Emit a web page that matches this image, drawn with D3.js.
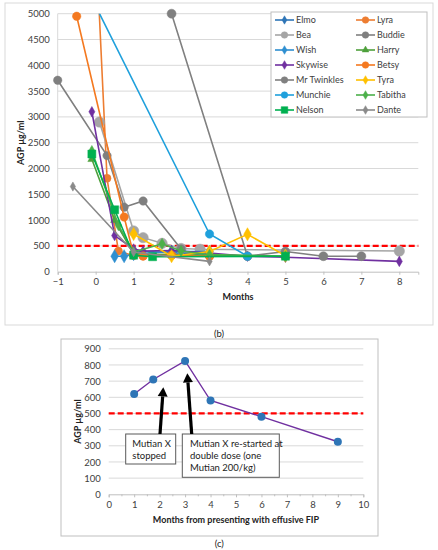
<!DOCTYPE html>
<html><head><meta charset="utf-8">
<script src="https://cdn.jsdelivr.net/npm/d3@7"></script>
<style>
html,body{margin:0;padding:0;background:#fff;}
svg{display:block;font-family:Lato,"Liberation Sans",sans-serif;}
</style></head>
<body>
<svg id="c" width="438" height="550"></svg>
<script>
// ---------- DATA: chart (b) ----------
const seriesNames = ["Elmo","Lyra","Bea","Buddie","Wish","Harry","Skywise","Betsy","Mr Twinkles","Tyra","Munchie","Tabitha","Nelson","Dante"];
const elmo      = [[0.5,970],[1,400],[2,370],[3,330],[4,300]];
const lyra      = [[0,6500],[0.3,1810],[0.6,400],[1,310],[1.25,300],[2,320],[3,300]];
const bea       = [[0.1,2900],[1,790],[1.25,660],[1.75,550],[2.25,450],[2.75,435],[8,400]];
const buddie    = [[-1,3710],[0.3,2250],[0.75,1250],[1.25,1370],[2.25,440]];
const wish      = [[0.5,300],[0.75,300],[1,340],[2,390],[3,390]];
const harry     = [[-0.1,2180],[0.5,1000],[1,340],[2,330],[3,320],[5,300]];
const skywise   = [[-0.1,3100],[0.5,700],[1,440],[1.25,400],[2,410],[3,360],[4,300],[5,280],[8,200]];
const betsy     = [[-0.5,4950],[0.75,1060],[1,330],[1.25,305],[2,320],[3,300]];
const mrTwinkles= [[2,5000],[4,300],[5,390],[6,300],[7,300]];
const tyra      = [[1,730],[2,300],[3,390],[4,725],[5,310]];
const munchie   = [[0,5150],[3,730],[4,300]];
const tabitha   = [[-0.1,2340],[0.6,900],[1,380],[1.75,540],[2.25,400],[3,330],[5,300]];
const nelson    = [[-0.1,2280],[0.5,1200],[1,320],[1.5,290],[5,300]];
const dante     = [[-0.6,1650],[1,380],[3,200]];
const bValues = [elmo,lyra,bea,buddie,wish,harry,skywise,betsy,mrTwinkles,tyra,munchie,tabitha,nelson,dante];
const bYTicks = [0,500,1000,1500,2000,2500,3000,3500,4000,4500,5000];
const bXTicks = [-1,0,1,2,3,4,5,6,7,8];
const bThreshold = 500;

// ---------- DATA: chart (c) ----------
const cMonths = [1,1.75,3,4,6,9];
const cAGP    = [620,710,825,580,480,325];
const cYTicks = [0,100,200,300,400,500,600,700,800,900];
const cXTicks = [0,1,2,3,4,5,6,7,8,9,10];
const cThreshold = 500;
const cNotes = [
  {lines:["Mutian X","stopped"], at:[1.75,710]},
  {lines:["Mutian X re-started at","double dose (one","Mutian 200/kg)"], at:[3,825]}
];

// ---------- STYLES ----------
const sStyle = [
  {c:"#2E75B6",m:"diamond",r:3.2},
  {c:"#ED7D31",m:"circle",r:4},
  {c:"#A5A5A5",m:"circle",r:5.2},
  {c:"#7F7F7F",m:"circle",r:4.2},
  {c:"#2E8FD0",m:"diamond",r:5},
  {c:"#4EA03C",m:"triangle",r:4},
  {c:"#7030A0",m:"diamond",r:4},
  {c:"#F47920",m:"circle",r:4.2},
  {c:"#808080",m:"circle",r:4.5},
  {c:"#FFC000",m:"diamond",r:5},
  {c:"#1FA0DC",m:"circle",r:4.2},
  {c:"#4CB04A",m:"diamond",r:4.2},
  {c:"#00B050",m:"square",r:4},
  {c:"#8A8A8A",m:"diamond",r:3.5}
];

const svg = d3.select("#c");
const sym = {circle:d3.symbolCircle,diamond:d3.symbolDiamond,triangle:d3.symbolTriangle,square:d3.symbolSquare};
function marker(g,type,r,color){
  const area = type==="circle"?Math.PI*r*r: type==="square"?(2*r)*(2*r): type==="diamond"? 2*r*r*1.0 : r*r*1.8;
  return g.append("path").attr("d",d3.symbol().type(sym[type]).size(area)()).attr("fill",color).attr("stroke",color).attr("stroke-width",0.5);
}

// ===== Chart (b) =====
svg.append("rect").attr("x",5).attr("y",3).attr("width",428).attr("height",322).attr("fill","#fff").attr("stroke","#D9D9D9");
const bx = d3.scaleLinear().domain([-1,8.5]).range([57.7,418.3]);
const by = d3.scaleLinear().domain([0,5000]).range([271.7,13.7]);
const bG = svg.append("g");
bG.selectAll("line.grid").data(bYTicks.slice(1)).join("line")
  .attr("x1",bx(-1)).attr("x2",bx(8.5)).attr("y1",d=>by(d)).attr("y2",d=>by(d))
  .attr("stroke","#D9D9D9").attr("stroke-width",1);
bG.append("line").attr("x1",bx(-1)).attr("x2",bx(-1)).attr("y1",by(0)).attr("y2",by(5000)).attr("stroke","#D9D9D9");
const bxAxis = bG.append("g").attr("transform",`translate(0,${by(0)})`)
  .call(d3.axisBottom(bx).tickValues(bXTicks).tickSize(3).tickPadding(4).tickFormat(d3.format("d")));
bxAxis.select(".domain").attr("stroke","#BFBFBF");
bxAxis.selectAll(".tick line").attr("stroke","#BFBFBF");
bxAxis.selectAll("text").attr("font-size",9.5).attr("fill","#404040").attr("font-family","Lato");
const byAxis = bG.append("g").attr("transform",`translate(${bx(-1)},0)`)
  .call(d3.axisLeft(by).tickValues(bYTicks).tickSize(0).tickPadding(8).tickFormat(d3.format("d")));
byAxis.select(".domain").remove();
byAxis.selectAll("text").attr("font-size",9.5).attr("fill","#404040").attr("font-family","Lato");
svg.append("text").attr("transform",`translate(24,${(by(0)+by(5000))/2}) rotate(-90)`)
  .attr("text-anchor","middle").attr("font-size",9).attr("font-weight","bold").attr("fill","#222").text("AGP µg/ml");
svg.append("text").attr("x",(bx(-1)+bx(8.5))/2).attr("y",300).attr("text-anchor","middle")
  .attr("font-size",9).attr("font-weight","bold").attr("fill","#222").text("Months");
svg.append("text").attr("x",219).attr("y",337).attr("text-anchor","middle").attr("font-size",9.5).attr("fill","#222").text("(b)");

svg.append("clipPath").attr("id","bclip").append("rect")
  .attr("x",bx(-1)).attr("y",by(5000)).attr("width",bx(8.5)-bx(-1)).attr("height",by(0)-by(5000));
// threshold
bG.append("line").attr("x1",bx(-1)).attr("x2",bx(8.5)).attr("y1",by(bThreshold)).attr("y2",by(bThreshold))
  .attr("stroke","#FF0000").attr("stroke-width",2.2).attr("stroke-dasharray","6,3");
const line = d3.line().x(d=>bx(d[0])).y(d=>by(d[1]));
const sG = bG.append("g");
bValues.forEach((vals,i)=>{
  const st = sStyle[i];
  const g = sG.append("g");
  g.append("path").attr("d",line(vals)).attr("fill","none").attr("stroke",st.c).attr("stroke-width",1.6).attr("clip-path","url(#bclip)");
  vals.filter(d=>d[1]<=5000).forEach(d=>{
    marker(g,st.m,st.r,st.c).attr("transform",`translate(${bx(d[0])},${by(d[1])})`);
  });
});

// legend
const lg = svg.append("g");
lg.append("rect").attr("x",271).attr("y",12).attr("width",156).attr("height",105).attr("fill","#fff").attr("stroke","#BFBFBF");
seriesNames.forEach((n,i)=>{
  const col = i%2, row = Math.floor(i/2);
  const x0 = col===0?275:356, y0 = 20+row*15;
  const st = sStyle[i];
  lg.append("line").attr("x1",x0).attr("x2",x0+19).attr("y1",y0).attr("y2",y0).attr("stroke",st.c).attr("stroke-width",1.6);
  marker(lg,st.m,Math.min(st.r,3.3),st.c).attr("transform",`translate(${x0+9.5},${y0})`);
  lg.append("text").attr("x",x0+21).attr("y",y0+3.3).attr("font-size",9).attr("fill","#404040").text(n);
});

// ===== Chart (c) =====
svg.append("rect").attr("x",61).attr("y",339).attr("width",317).attr("height",197).attr("fill","#fff").attr("stroke","#BFBFBF");
const cx = d3.scaleLinear().domain([0,10]).range([108.7,363.3]);
const cy = d3.scaleLinear().domain([0,900]).range([494.3,348.8]);
const cG = svg.append("g");
cG.selectAll("line.grid").data(cYTicks.slice(1)).join("line")
  .attr("x1",cx(0)).attr("x2",cx(10)).attr("y1",d=>cy(d)).attr("y2",d=>cy(d)).attr("stroke","#D9D9D9");
const cxAxis = cG.append("g").attr("transform",`translate(0,${cy(0)})`)
  .call(d3.axisBottom(cx).tickValues(cXTicks).tickSize(3).tickPadding(4).tickFormat(d3.format("d")));
cxAxis.select(".domain").attr("stroke","#BFBFBF");
cxAxis.selectAll(".tick line").attr("stroke","#BFBFBF");
cxAxis.selectAll("text").attr("font-size",9.5).attr("fill","#404040").attr("font-family","Lato");
cG.append("g").attr("transform",`translate(0,${cy(0)})`)
  .call(d3.axisBottom(cx).tickValues(d3.range(0.5,10,1)).tickSize(2).tickFormat(""))
  .call(g=>{g.select(".domain").remove();g.selectAll("line").attr("stroke","#BFBFBF");});
const cyAxis = cG.append("g").attr("transform",`translate(${cx(0)},0)`)
  .call(d3.axisLeft(cy).tickValues(cYTicks).tickSize(0).tickPadding(8).tickFormat(d3.format("d")));
cyAxis.select(".domain").remove();
cyAxis.selectAll("text").attr("font-size",9.5).attr("fill","#404040").attr("font-family","Lato");
svg.append("text").attr("transform",`translate(81,${(cy(0)+cy(900))/2}) rotate(-90)`)
  .attr("text-anchor","middle").attr("font-size",9).attr("font-weight","bold").attr("fill","#222").text("AGP µg/ml");
svg.append("text").attr("x",(cx(0)+cx(10))/2).attr("y",523).attr("text-anchor","middle")
  .attr("font-size",9).attr("font-weight","bold").attr("fill","#222").text("Months from presenting with effusive FIP");
svg.append("text").attr("x",219.3).attr("y",547).attr("text-anchor","middle").attr("font-size",9.5).attr("fill","#222").text("(c)");

cG.append("line").attr("x1",cx(0)).attr("x2",cx(10)).attr("y1",cy(cThreshold)).attr("y2",cy(cThreshold))
  .attr("stroke","#FF0000").attr("stroke-width",2.2).attr("stroke-dasharray","6,3");
const cData = cMonths.map((m,i)=>[m,cAGP[i]]);
cG.append("path").attr("d",d3.line().x(d=>cx(d[0])).y(d=>cy(d[1]))(cData)).attr("fill","none").attr("stroke","#7030A0").attr("stroke-width",1.4);
cG.selectAll("circle.pt").data(cData).join("circle").attr("cx",d=>cx(d[0])).attr("cy",d=>cy(d[1])).attr("r",4).attr("fill","#2E75B6");

// annotation boxes and arrows
const boxes = [
  {x:125.7,y:434,w:50,h:30,tx:132.3,tip:[163.3,387.3],base:[160,434]},
  {x:182.3,y:434,w:97,h:43.3,tx:190,tip:[187.3,373.3],base:[191.7,434]}
];
cNotes.forEach((n,i)=>{
  const b = boxes[i];
  const g = cG.append("g");
  g.append("rect").attr("x",b.x).attr("y",b.y).attr("width",b.w).attr("height",b.h).attr("fill","#fff").attr("stroke","#595959").attr("stroke-width",1);
  n.lines.forEach((t,j)=>g.append("text").attr("x",b.tx).attr("y",b.y+13+j*12).attr("font-size",9.5).attr("fill","#222").text(t));
  const [x1,y1]=b.base,[x2,y2]=b.tip;
  const ang=Math.atan2(y2-y1,x2-x1), hl=9, hw=5;
  const bxp=x2-hl*Math.cos(ang), byp=y2-hl*Math.sin(ang);
  g.append("line").attr("x1",x1).attr("y1",y1).attr("x2",bxp).attr("y2",byp).attr("stroke","#000").attr("stroke-width",3.2);
  g.append("path").attr("d",`M${x2},${y2}L${bxp+hw*Math.sin(ang)},${byp-hw*Math.cos(ang)}L${bxp-hw*Math.sin(ang)},${byp+hw*Math.cos(ang)}Z`).attr("fill","#000");
});
</script>
</body></html>
